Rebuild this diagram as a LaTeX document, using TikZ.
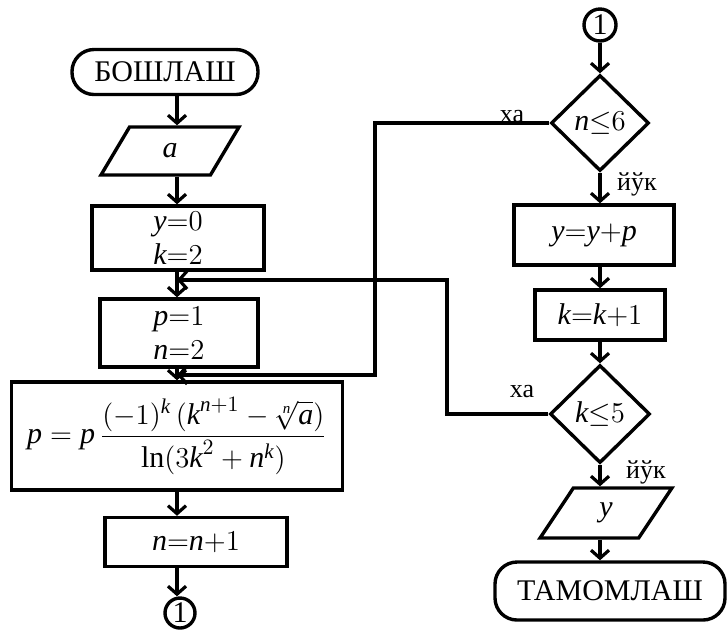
\documentclass[tikz,border=0pt]{standalone}
\usepackage{amsmath}
\usepackage{fontspec}
\setmainfont{Liberation Serif}
\usetikzlibrary{shapes.geometric,arrows.meta}
\newcommand{\mi}[1]{\textit{#1}}
\begin{document}
\begin{tikzpicture}[x=0.5pt,y=-0.5pt,
  every node/.style={font=\fontsize{15pt}{17pt}\selectfont, inner sep=1pt},
  ln/.style={line width=1.7pt},
  arr/.style={ln,-{Straight Barb[length=4pt,width=9pt,line width=1.6pt]}},
  terminal/.style={draw,ln,rectangle,rounded corners=11pt},
  proc/.style={draw,ln,rectangle,align=center},
  io/.style={draw,ln,trapezium,trapezium left angle=70,trapezium right angle=110,trapezium stretches=true},
  dec/.style={draw,ln,diamond,inner sep=0pt},
  conn/.style={draw,ln,circle,inner sep=0pt},
  lbl/.style={font=\fontsize{13pt}{14pt}\selectfont}]
\useasboundingbox (0,0) rectangle (727,634);
\coordinate (colL) at (177,0);
\coordinate (colR) at (600,0);
% left column
\node[terminal,minimum width=93pt,minimum height=22.5pt] (start) at (165,72) {БОШЛАШ};
\node[io,minimum width=69pt,minimum height=24pt] (ina) at (170,151) {\mi{a}};
\node[proc,minimum width=86pt,minimum height=32pt] (b1) at (178,238) {$\mi{y}{=}0$\\$\mi{k}{=}2$};
\node[proc,minimum width=79pt,minimum height=34pt] (b2) at (179,333) {$\mi{p}{=}1$\\$\mi{n}{=}2$};
\node[proc,minimum width=165.5pt,minimum height=54pt] (f) at (177,436)
  {$\mi{p} = \mi{p}\,\dfrac{(-1)^{\mi{k}}\,(\mi{k}^{\mi{n}+1} - \sqrt[\mi{n}]{\mi{a}})}{\ln(3\mi{k}^{2} + \mi{n}^{\mi{k}})}$};
\node[proc,minimum width=91pt,minimum height=24.5pt] (b3) at (196,542) {$\mi{n}{=}\mi{n}{+}1$};
\node[conn,minimum size=15pt] (c1) at (180,613) {1};
\coordinate (m1) at (177,280);
\coordinate (m2) at (177,375);
% right column
\node[conn,minimum size=16pt] (c2) at (600,25) {1};
\node[dec,minimum width=49pt,minimum height=48pt] (d1) at (600,123) {$\mi{n}{\le}6$};
\node[proc,minimum width=80pt,minimum height=30pt] (r1) at (594,235) {$\mi{y}{=}\mi{y}{+}\mi{p}$};
\node[proc,minimum width=65pt,minimum height=25pt] (r2) at (600,315) {$\mi{k}{=}\mi{k}{+}1$};
\node[dec,minimum width=50pt,minimum height=49pt] (d2) at (600,414) {$\mi{k}{\le}5$};
\node[io,minimum width=66pt,minimum height=25pt] (r3) at (606,513) {\mi{y}};
\node[terminal,minimum width=115pt,minimum height=29pt] (end) at (610,591) {ТАМОМЛАШ};
% labels
\node[lbl] (xa1) at (512,117) {ха};
\node[lbl] (xa2) at (522,392) {ха};
\node[lbl] (yk1) at (637,184) {йўк};
\node[lbl] (yk2) at (646,472) {йўк};
% loop corners
\coordinate (x1) at (375,0);
\coordinate (x2) at (447,0);
% left connectors
\draw[arr] (start.south -| colL) -- (ina.north -| colL);
\draw[arr] (ina.south -| colL) -- (b1.north -| colL);
\draw[arr] (b1.south -| colL) -- (b2.north -| colL);
\draw[arr] (b2.south -| colL) -- (f.north -| colL);
\draw[arr] (f.south -| colL) -- (b3.north -| colL);
\draw[arr] (b3.south -| colL) -- (c1.north -| colL);
% right connectors
\draw[arr] (c2.south -| colR) -- (d1.north);
\draw[arr] (d1.south) -- (r1.north -| colR);
\draw[arr] (r1.south -| colR) -- (r2.north -| colR);
\draw[arr] (r2.south -| colR) -- (d2.north);
\draw[arr] (d2.south) -- (r3.north -| colR);
\draw[arr] (r3.south -| colR) -- (end.north -| colR);
% loops
\draw[arr] (d1.west) -- (d1.west -| x1) -- (x1 |- m2) -- (m2);
\draw[arr] (d2.west) -- (d2.west -| x2) -- (x2 |- m1) -- (m1);
\end{tikzpicture}
\end{document}
